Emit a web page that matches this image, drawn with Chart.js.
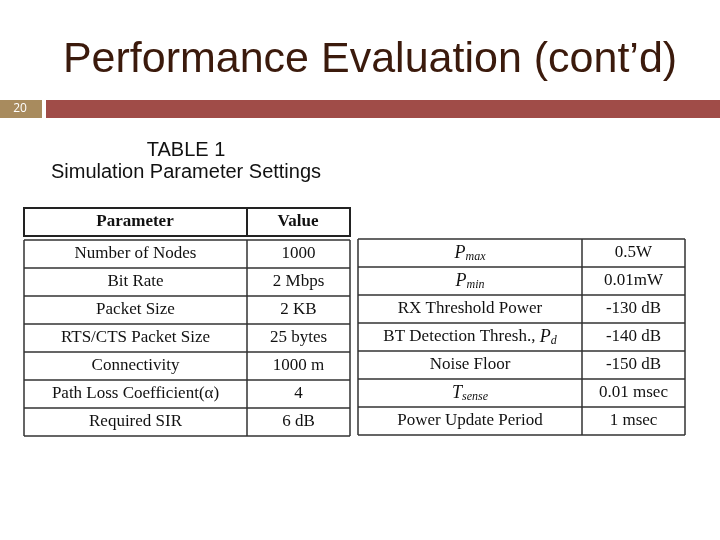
<!DOCTYPE html>
<html>
<head>
<meta charset="utf-8">
<script src="https://cdn.jsdelivr.net/npm/chart.js@4/dist/chart.umd.min.js"></script>
<style>
body { margin: 0; background: #fff; }
canvas { display: block; }
</style>
</head>
<body>
<canvas id="slide" width="720" height="540"></canvas>
<script>
// table content
const leftParams = ['Number of Nodes', 'Bit Rate', 'Packet Size', 'RTS/CTS Packet Size', 'Connectivity', 'Path Loss Coefficient(α)', 'Required SIR'];
const leftValues = ['1000', '2 Mbps', '2 KB', '25 bytes', '1000 m', '4', '6 dB'];
// math labels: [text, style] where style is 'n' normal, 'i' italic, 's' italic subscript
const rightParams = [
    [['P', 'i'], ['max', 's']],
    [['P', 'i'], ['min', 's']],
    [['RX Threshold Power', 'n']],
    [['BT Detection Thresh., ', 'n'], ['P', 'i'], ['d', 's']],
    [['Noise Floor', 'n']],
    [['T', 'i'], ['sense', 's']],
    [['Power Update Period', 'n']]
];
const rightValues = ['0.5W', '0.01mW', '-130 dB', '-140 dB', '-150 dB', '0.01 msec', '1 msec'];

const serif = '"Liberation Serif", "DejaVu Serif", serif';

function drawRich(ctx, parts, cx, cy) {
    const fontFor = s => s === 'n' ? '17px ' + serif : s === 'i' ? 'italic 18px ' + serif : 'italic 12px ' + serif;
    let w = 0;
    parts.forEach(p => { ctx.font = fontFor(p[1]); w += ctx.measureText(p[0]).width; });
    let x = cx - w / 2;
    ctx.textAlign = 'left';
    parts.forEach(p => {
        ctx.font = fontFor(p[1]);
        ctx.fillText(p[0], x, p[1] === 's' ? cy + 4 : cy);
        x += ctx.measureText(p[0]).width;
    });
}

const tablePlugin = {
    id: 'tables',
    afterDraw(chart) {
        const ctx = chart.ctx, xs = chart.scales.x, ys = chart.scales.y;
        const X = v => xs.getPixelForValue(v), Y = v => ys.getPixelForValue(v);
        ctx.save();
        // header strip
        ctx.fillStyle = '#a88b5e';
        ctx.fillRect(X(0), Y(100), X(42) - X(0), Y(118) - Y(100));
        ctx.fillStyle = '#a04c48';
        ctx.fillRect(X(46), Y(100), X(720) - X(46), Y(118) - Y(100));
        ctx.fillStyle = '#fff';
        ctx.font = '12px "Open Sans", sans-serif';
        ctx.textAlign = 'center'; ctx.textBaseline = 'middle';
        ctx.fillText('20', X(20), Y(109));
        // title
        ctx.fillStyle = '#3b1a0c';
        ctx.font = '43px "Liberation Sans", Arial, sans-serif';
        ctx.fillText('Performance Evaluation (cont\u2019d)', X(370), Y(60));
        // caption
        ctx.fillStyle = '#111';
        ctx.font = '20px "Liberation Sans", Arial, sans-serif';
        ctx.fillText('TABLE 1', X(186), Y(150));
        ctx.fillText('Simulation Parameter Settings', X(186), Y(172));

        const rowH = 28;
        ctx.strokeStyle = '#222';
        // left table header
        ctx.lineWidth = 2;
        ctx.strokeRect(X(24), Y(208), X(350) - X(24), Y(236) - Y(208));
        ctx.beginPath(); ctx.moveTo(X(247), Y(208)); ctx.lineTo(X(247), Y(236)); ctx.stroke();
        ctx.fillStyle = '#111';
        ctx.font = 'bold 17px ' + serif;
        ctx.fillText('Parameter', X(135), Y(222));
        ctx.fillText('Value', X(298), Y(222));

        function table(x0, xm, x1, top, params, values, rich) {
            const bottom = top + rowH * params.length;
            ctx.lineWidth = 1.5;
            ctx.strokeStyle = '#333';
            ctx.beginPath();
            [x0, xm, x1].forEach(x => { ctx.moveTo(X(x), Y(top)); ctx.lineTo(X(x), Y(bottom)); });
            for (let i = 0; i <= params.length; i++) {
                ctx.moveTo(X(x0), Y(top + i * rowH)); ctx.lineTo(X(x1), Y(top + i * rowH));
            }
            ctx.stroke();
            ctx.fillStyle = '#111';
            params.forEach((p, i) => {
                const cy = Y(top + i * rowH + rowH / 2);
                if (rich) drawRich(ctx, p, X((x0 + xm) / 2), cy);
                else { ctx.textAlign = 'center'; ctx.font = '17px ' + serif; ctx.fillText(p, X((x0 + xm) / 2), cy); }
                ctx.textAlign = 'center'; ctx.font = '17px ' + serif;
                ctx.fillText(values[i], X((xm + x1) / 2), cy);
            });
        }
        table(24, 247, 350, 240, leftParams, leftValues, false);
        table(358, 582, 685, 239, rightParams, rightValues, true);
        ctx.restore();
    }
};

new Chart(document.getElementById('slide').getContext('2d'), {
    type: 'scatter',
    data: { datasets: [{ data: [] }] },
    options: {
        responsive: false,
        animation: false,
        devicePixelRatio: 1,
        layout: { padding: 0 },
        plugins: { legend: { display: false }, tooltip: { enabled: false } },
        scales: {
            x: { type: 'linear', min: 0, max: 720, display: false },
            y: { type: 'linear', min: 0, max: 540, reverse: true, display: false }
        }
    },
    plugins: [tablePlugin]
});
</script>
</body>
</html>
